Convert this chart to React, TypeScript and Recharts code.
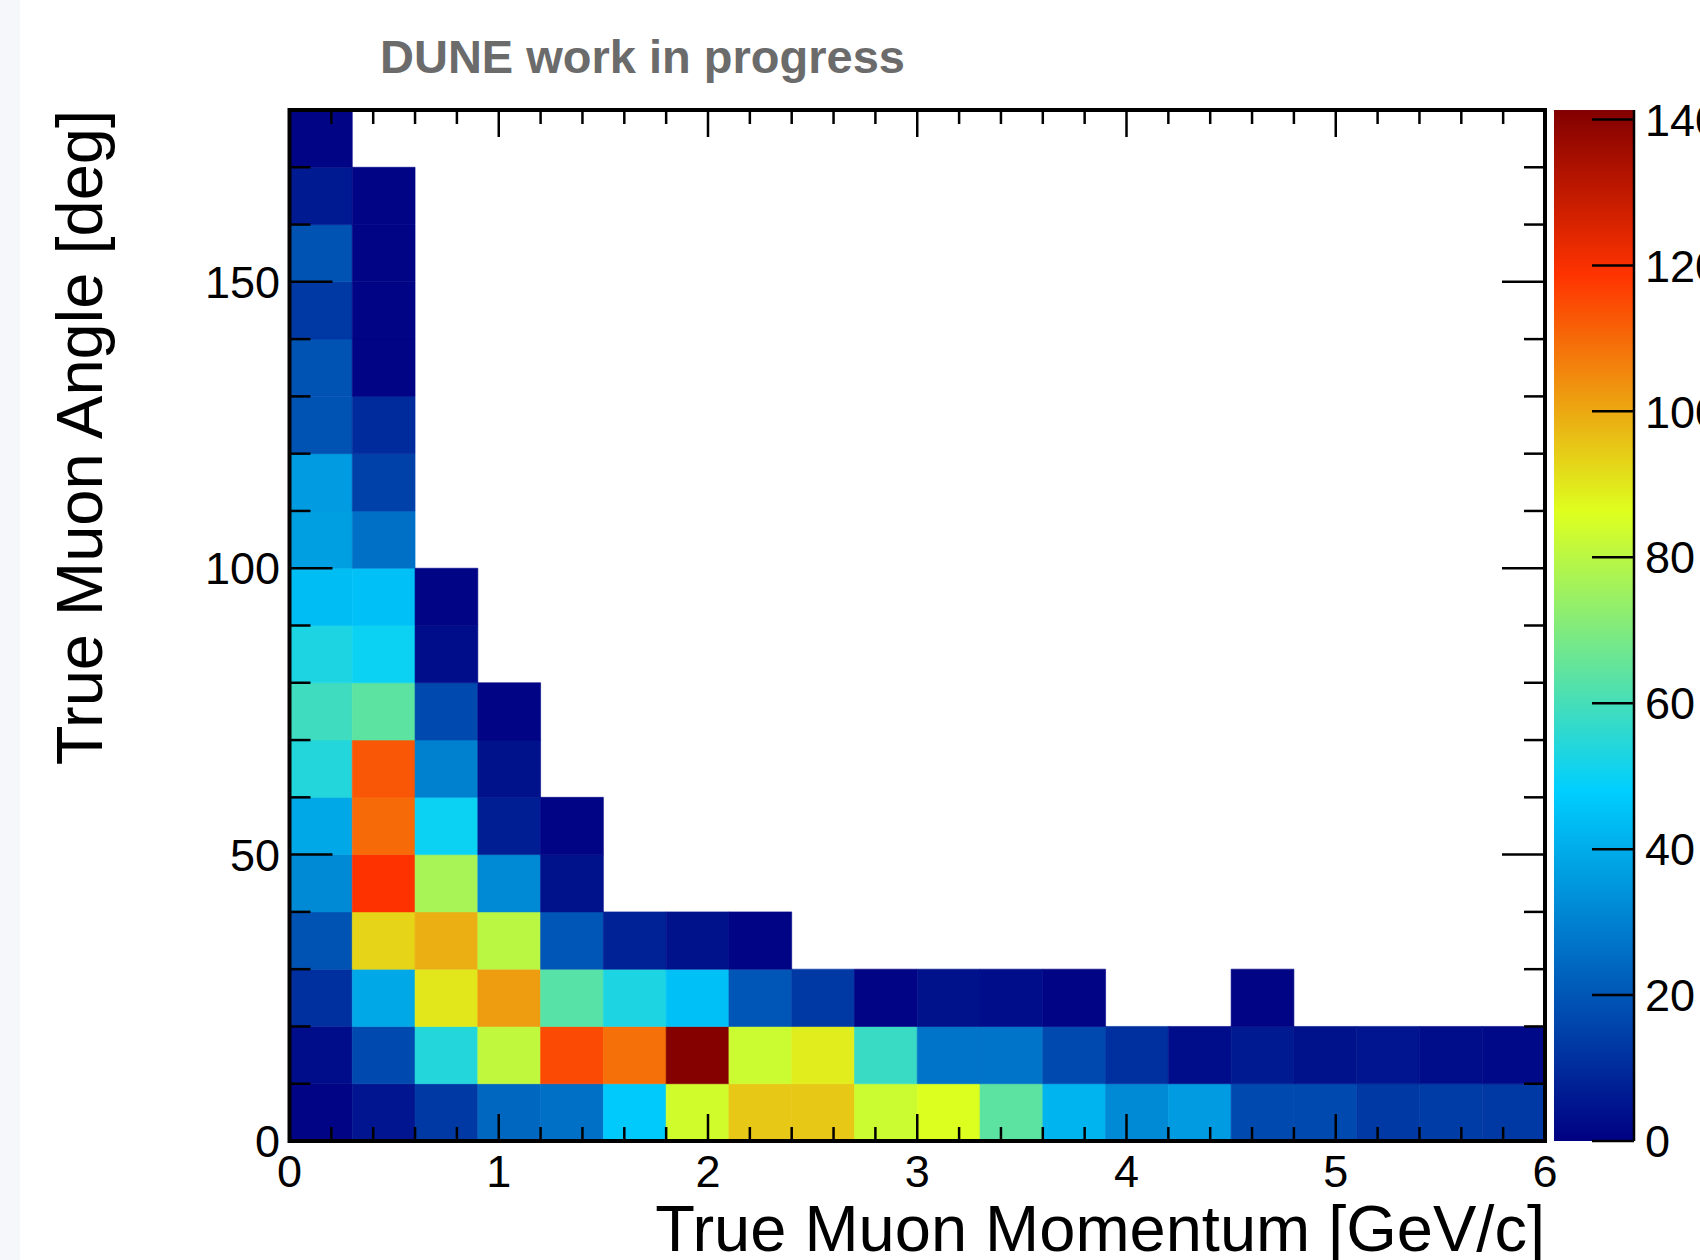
import { ScatterChart, Scatter, XAxis, YAxis, ReferenceArea } from 'recharts'

// bin edges
const momentumEdges = [0, 0.3, 0.6, 0.9, 1.2, 1.5, 1.8, 2.1, 2.4, 2.7, 3.0, 3.3, 3.6, 3.9, 4.2, 4.5, 4.8, 5.1, 5.4, 5.7, 6.0]
const angleEdges = [0, 10, 20, 30, 40, 50, 60, 70, 80, 90, 100, 110, 120, 130, 140, 150, 160, 170, 180]

// counts[angle bin][momentum bin], angle bin 0 = 0-10 deg
const counts: number[][] = [
  [1, 5, 13, 24, 26, 47, 84, 95, 95, 83, 86, 64, 42, 32, 36, 17, 17, 13, 14, 13],
  [3, 17, 54, 81, 115, 109, 141, 83, 89, 58, 27, 27, 17, 11, 3, 6, 4, 5, 3, 2],
  [11, 39, 90, 102, 63, 53, 45, 20, 13, 1, 4, 3, 1, 0, 0, 1, 0, 0, 0, 0],
  [19, 93, 99, 80, 20, 8, 4, 1, 0, 0, 0, 0, 0, 0, 0, 0, 0, 0, 0, 0],
  [32, 119, 77, 32, 4, 0, 0, 0, 0, 0, 0, 0, 0, 0, 0, 0, 0, 0, 0, 0],
  [39, 110, 50, 7, 1, 0, 0, 0, 0, 0, 0, 0, 0, 0, 0, 0, 0, 0, 0, 0],
  [54, 113, 30, 4, 0, 0, 0, 0, 0, 0, 0, 0, 0, 0, 0, 0, 0, 0, 0, 0],
  [59, 64, 17, 1, 0, 0, 0, 0, 0, 0, 0, 0, 0, 0, 0, 0, 0, 0, 0, 0],
  [53, 50, 3, 0, 0, 0, 0, 0, 0, 0, 0, 0, 0, 0, 0, 0, 0, 0, 0, 0],
  [44, 45, 1, 0, 0, 0, 0, 0, 0, 0, 0, 0, 0, 0, 0, 0, 0, 0, 0, 0],
  [37, 26, 0, 0, 0, 0, 0, 0, 0, 0, 0, 0, 0, 0, 0, 0, 0, 0, 0, 0],
  [36, 15, 0, 0, 0, 0, 0, 0, 0, 0, 0, 0, 0, 0, 0, 0, 0, 0, 0, 0],
  [19, 10, 0, 0, 0, 0, 0, 0, 0, 0, 0, 0, 0, 0, 0, 0, 0, 0, 0, 0],
  [19, 1, 0, 0, 0, 0, 0, 0, 0, 0, 0, 0, 0, 0, 0, 0, 0, 0, 0, 0],
  [13, 1, 0, 0, 0, 0, 0, 0, 0, 0, 0, 0, 0, 0, 0, 0, 0, 0, 0, 0],
  [19, 1, 0, 0, 0, 0, 0, 0, 0, 0, 0, 0, 0, 0, 0, 0, 0, 0, 0, 0],
  [6, 1, 0, 0, 0, 0, 0, 0, 0, 0, 0, 0, 0, 0, 0, 0, 0, 0, 0, 0],
  [1, 0, 0, 0, 0, 0, 0, 0, 0, 0, 0, 0, 0, 0, 0, 0, 0, 0, 0, 0],
]

const xMajorTicks = [0, 1, 2, 3, 4, 5, 6]
const yMajorTicks = [0, 50, 100, 150]
const zTicks = [0, 20, 40, 60, 80, 100, 120, 140]
const Z_MAX = 141.3

// palette stops (classic ROOT rainbow)
const palStops = [0.0, 0.34, 0.61, 0.84, 1.0]
const palRed = [0.0, 0.0, 0.87, 1.0, 0.51]
const palGreen = [0.0, 0.81, 1.0, 0.2, 0.0]
const palBlue = [0.51, 1.0, 0.12, 0.0, 0.0]

const W = 1700
const H = 1260
const PLOT = { left: 289.5, top: 110, right: 1545, bottom: 1141 }
const CBAR = { left: 1554, right: 1634 }
const FONT = '"Liberation Sans", Arial, Helvetica, sans-serif'

const xTicks = Array.from({ length: 31 }, (_, i) => Math.round(i * 2) / 10)
const yTicks = Array.from({ length: 19 }, (_, i) => i * 10)

function paletteColor(v: number) {
  const t = Math.max(0, Math.min(1, v / Z_MAX))
  let k = 0
  while (k < palStops.length - 2 && t > palStops[k + 1]) k++
  const f = (t - palStops[k]) / (palStops[k + 1] - palStops[k])
  const c = (arr: number[]) => Math.round(255 * (arr[k] + (arr[k + 1] - arr[k]) * f))
  return `rgb(${c(palRed)},${c(palGreen)},${c(palBlue)})`
}

const bins = counts.flatMap((row, j) =>
  row
    .map((v, i) => ({
      x0: momentumEdges[i],
      x1: momentumEdges[i + 1],
      y0: angleEdges[j],
      y1: angleEdges[j + 1],
      x: (momentumEdges[i] + momentumEdges[i + 1]) / 2,
      y: (angleEdges[j] + angleEdges[j + 1]) / 2,
      v,
    }))
    .filter((b) => b.v > 0)
)

const zData = zTicks.map((z) => ({ x: 0.5, z }))

const renderXTick = (props: any) => {
  const { x, payload } = props
  const v = payload.value
  const major = xMajorTicks.some((m) => Math.abs(m - v) < 1e-6)
  const len = major ? 27 : 14
  return (
    <g key={`xt-${v}`}>
      <line x1={x} y1={PLOT.bottom} x2={x} y2={PLOT.bottom - len} stroke="#000" strokeWidth={2.5} />
      <line x1={x} y1={PLOT.top} x2={x} y2={PLOT.top + len} stroke="#000" strokeWidth={2.5} />
      {major && (
        <text x={x} y={PLOT.bottom + 46} textAnchor="middle" fontSize={45} fontFamily={FONT} fill="#000">
          {Math.round(v)}
        </text>
      )}
    </g>
  )
}

const renderYTick = (props: any) => {
  const { y, payload } = props
  const v = payload.value
  const major = yMajorTicks.includes(v)
  const len = major ? 43 : 21
  return (
    <g key={`yt-${v}`}>
      <line x1={PLOT.left} y1={y} x2={PLOT.left + len} y2={y} stroke="#000" strokeWidth={2.5} />
      <line x1={PLOT.right} y1={y} x2={PLOT.right - len} y2={y} stroke="#000" strokeWidth={2.5} />
      {major && (
        <text x={PLOT.left - 9.5} y={y} dy="0.36em" textAnchor="end" fontSize={45} fontFamily={FONT} fill="#000">
          {v}
        </text>
      )}
    </g>
  )
}

const renderZTick = (props: any) => {
  const { y, payload } = props
  const x = CBAR.right - CBAR.left
  return (
    <g key={`zt-${payload.value}`}>
      <line x1={x} y1={y} x2={x - 42} y2={y} stroke="#000" strokeWidth={2.5} />
      <text x={x + 11} y={y} dy="0.36em" textAnchor="start" fontSize={45} fontFamily={FONT} fill="#000">
        {payload.value}
      </text>
    </g>
  )
}

export default function App() {
  return (
    <div style={{ position: 'absolute', left: 0, top: 0, width: W, height: H, background: '#fff', overflow: 'hidden' }}>
      <div style={{ position: 'absolute', left: 0, top: 0, width: 20, height: H, background: '#f6f7fb' }} />

      <svg width={0} height={0} style={{ position: 'absolute' }}>
        <defs>
          <linearGradient id="zPalette" x1="0" y1="1" x2="0" y2="0">
            {palStops.map((s, k) => (
              <stop
                key={s}
                offset={s}
                stopColor={`rgb(${Math.round(255 * palRed[k])},${Math.round(255 * palGreen[k])},${Math.round(255 * palBlue[k])})`}
              />
            ))}
          </linearGradient>
        </defs>
      </svg>

      <div style={{ position: 'absolute', left: 0, top: 0 }}>
        <ScatterChart
          width={W}
          height={H}
          margin={{ top: PLOT.top, left: 0, right: W - PLOT.right, bottom: 0 }}
        >
          {bins.map((b) => (
            <ReferenceArea
              key={`${b.x0}-${b.y0}`}
              x1={b.x0}
              x2={b.x1}
              y1={b.y0}
              y2={b.y1}
              fill={paletteColor(b.v)}
              fillOpacity={1}
              stroke={paletteColor(b.v)}
              strokeWidth={0.6}
              ifOverflow="visible"
            />
          ))}
          <XAxis
            type="number"
            dataKey="x"
            domain={[0, 6]}
            ticks={xTicks}
            interval={0}
            height={H - PLOT.bottom}
            tickSize={0}
            tickLine={false}
            axisLine={false}
            tick={renderXTick}
            allowDataOverflow
          />
          <YAxis
            type="number"
            dataKey="y"
            domain={[0, 180]}
            ticks={yTicks}
            interval={0}
            width={PLOT.left}
            tickSize={0}
            tickLine={false}
            axisLine={false}
            tick={renderYTick}
            allowDataOverflow
          />
          <Scatter data={bins} shape={() => <g />} isAnimationActive={false} />
          <ReferenceArea x1={0} x2={6} y1={0} y2={180} fill="none" stroke="#000" strokeWidth={4} ifOverflow="visible" />
        </ScatterChart>
      </div>

      <div style={{ position: 'absolute', left: CBAR.left, top: 0 }}>
        <ScatterChart
          width={W - CBAR.left}
          height={H}
          margin={{ top: PLOT.top, left: 0, right: 0, bottom: H - PLOT.bottom }}
        >
          <ReferenceArea x1={0} x2={1} y1={0} y2={Z_MAX} fill="url(#zPalette)" fillOpacity={1} stroke="none" ifOverflow="visible" />
          <XAxis type="number" dataKey="x" domain={[0, 1]} hide />
          <YAxis
            type="number"
            dataKey="z"
            orientation="right"
            domain={[0, Z_MAX]}
            ticks={zTicks}
            interval={0}
            width={W - CBAR.right}
            tickSize={0}
            tickLine={false}
            axisLine={{ stroke: '#000', strokeWidth: 2.5 }}
            tick={renderZTick}
            allowDataOverflow
          />
          <Scatter data={zData} shape={() => <g />} isAnimationActive={false} />
        </ScatterChart>
      </div>

      <svg width={W} height={H} style={{ position: 'absolute', left: 0, top: 0, pointerEvents: 'none' }}>
        <text x={380} y={73} fontSize={47} fontWeight="bold" fontFamily={FONT} fill="#6b6b6b">
          DUNE work in progress
        </text>
        <text x={PLOT.right} y={1251} textAnchor="end" fontSize={65} fontFamily={FONT} fill="#000">
          True Muon Momentum [GeV/c]
        </text>
        <text transform={`translate(102,${PLOT.top}) rotate(-90)`} textAnchor="end" fontSize={65} fontFamily={FONT} fill="#000">
          True Muon Angle [deg]
        </text>
      </svg>
    </div>
  )
}
